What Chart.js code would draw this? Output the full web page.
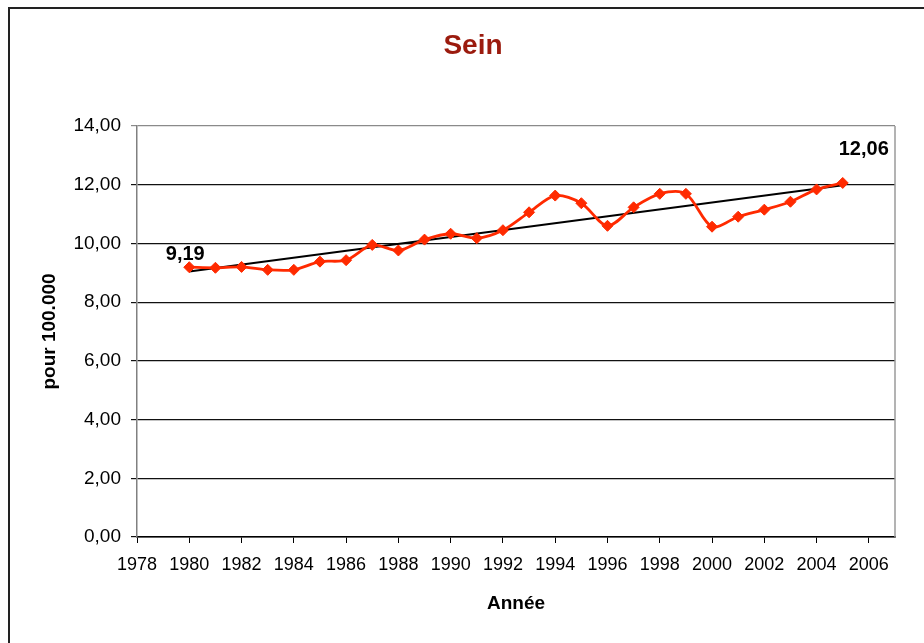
<!DOCTYPE html>
<html>
<head>
<meta charset="utf-8">
<script src="https://cdn.jsdelivr.net/npm/chart.js@4.4.0/dist/chart.umd.min.js"></script>
<style>
  html, body { margin: 0; padding: 0; background: #fff; }
  #wrap { width: 924px; height: 643px; }
</style>
</head>
<body>
<div id="wrap"><canvas id="chart" width="924" height="643"></canvas></div>
<script>
// values
const years = [1980, 1981, 1982, 1983, 1984, 1985, 1986, 1987, 1988, 1989, 1990, 1991, 1992,
  1993, 1994, 1995, 1996, 1997, 1998, 1999, 2000, 2001, 2002, 2003, 2004, 2005];
const rates = [9.19, 9.17, 9.20, 9.10, 9.10, 9.38, 9.43, 9.95, 9.76, 10.13, 10.33, 10.18, 10.45,
  11.06, 11.63, 11.37, 10.60, 11.23, 11.69, 11.69, 10.57, 10.91, 11.15, 11.42, 11.84, 12.06];
const trendYears = [1980, 2005];
const trendValues = [9.04, 11.98];
const xTicks = [1978, 1980, 1982, 1984, 1986, 1988, 1990, 1992, 1994, 1996, 1998, 2000, 2002, 2004, 2006];
const yTicks = [0, 2, 4, 6, 8, 10, 12, 14];
const labelledIdx = [0, rates.length - 1];

const FONT = '"Liberation Sans", Arial, sans-serif';
const fmt = v => v.toFixed(2).replace('.', ',');

const frame = {
  id: 'frame',
  beforeDraw(chart) {
    const { ctx } = chart;
    ctx.save();
    ctx.fillStyle = '#fff';
    ctx.fillRect(0, 0, chart.width, chart.height);
    ctx.strokeStyle = '#222';
    ctx.lineWidth = 2;
    ctx.strokeRect(9, 8, chart.width + 20, chart.height + 20);
    ctx.restore();
  },
  afterDraw(chart) {
    const { ctx, chartArea } = chart;
    ctx.save();
    ctx.strokeStyle = '#9a9a9a';
    ctx.lineWidth = 1.5;
    ctx.beginPath();
    ctx.moveTo(chartArea.right, chartArea.top);
    ctx.lineTo(chartArea.right, chartArea.bottom);
    ctx.stroke();
    ctx.restore();
  }
};

const pointLabels = {
  id: 'pointLabels',
  afterDatasetsDraw(chart) {
    const { ctx } = chart;
    const meta = chart.getDatasetMeta(0);
    const offsets = [[-4, -13], [21, -33]];
    ctx.save();
    ctx.font = 'bold 20px ' + FONT;
    ctx.fillStyle = '#000';
    ctx.textAlign = 'center';
    ctx.textBaseline = 'middle';
    labelledIdx.forEach((i, k) => {
      const pt = meta.data[i];
      ctx.fillText(fmt(rates[i]), pt.x + offsets[k][0], pt.y + offsets[k][1]);
    });
    ctx.restore();
  }
};

new Chart(document.getElementById('chart').getContext('2d'), {
  type: 'line',
  data: {
    datasets: [
      {
        label: 'Sein',
        data: years.map((y, i) => ({ x: y, y: rates[i] })),
        borderColor: '#ff2a00',
        backgroundColor: '#ff2a00',
        borderWidth: 2.8,
        tension: 0.3,
        pointStyle: 'rectRot',
        pointRadius: 5.5,
        pointBorderWidth: 1,
        pointBorderColor: '#ff2a00',
        pointBackgroundColor: '#ff2a00',
        fill: false
      },
      {
        label: 'Tendance',
        data: trendYears.map((y, i) => ({ x: y, y: trendValues[i] })),
        borderColor: '#000',
        borderWidth: 2,
        tension: 0,
        pointRadius: 0,
        fill: false
      }
    ]
  },
  options: {
    responsive: false,
    animation: false,
    layout: { padding: { left: 51, right: 29, top: 0, bottom: 0 } },
    plugins: {
      legend: { display: false },
      tooltip: { enabled: false },
      title: {
        display: true,
        text: 'Sein',
        color: '#9b1b0e',
        font: { family: FONT, size: 28, weight: 'bold' },
        padding: { top: 29, bottom: 63.4 }
      }
    },
    scales: {
      x: {
        type: 'linear',
        min: 1978,
        max: 2007,
        afterFit(scale) { scale.height = 106; },
        afterBuildTicks(scale) { scale.ticks = xTicks.map(v => ({ value: v })); },
        grid: { drawOnChartArea: false, drawTicks: true, tickLength: 6, color: '#000' },
        border: { color: '#000', width: 1.5 },
        ticks: {
          autoSkip: false,
          maxRotation: 0,
          padding: 11,
          color: '#000',
          font: { family: FONT, size: 18 },
          callback: v => String(v)
        },
        title: {
          display: true,
          text: 'Année',
          color: '#000',
          font: { family: FONT, size: 19, weight: 'bold' },
          padding: { top: 0, bottom: 27.6 }
        }
      },
      y: {
        min: 0,
        max: 14,
        afterFit(scale) { scale.width = 86; },
        afterBuildTicks(scale) { scale.ticks = yTicks.map(v => ({ value: v })); },
        grid: {
          drawTicks: true,
          tickLength: 6,
          color: ctx => (ctx.tick && ctx.tick.value === yTicks[yTicks.length - 1]) ? '#8a8a8a' : '#111',
          lineWidth: 1.2
        },
        border: { color: '#808080', width: 1.5 },
        ticks: {
          padding: 10,
          color: '#000',
          font: { family: FONT, size: 19 },
          callback: v => fmt(v)
        },
        title: {
          display: true,
          text: 'pour 100.000',
          color: '#000',
          font: { family: FONT, size: 19, weight: 'bold' },
          padding: { top: -12.4, bottom: 0 }
        }
      }
    }
  },
  plugins: [frame, pointLabels]
});
</script>
</body>
</html>
